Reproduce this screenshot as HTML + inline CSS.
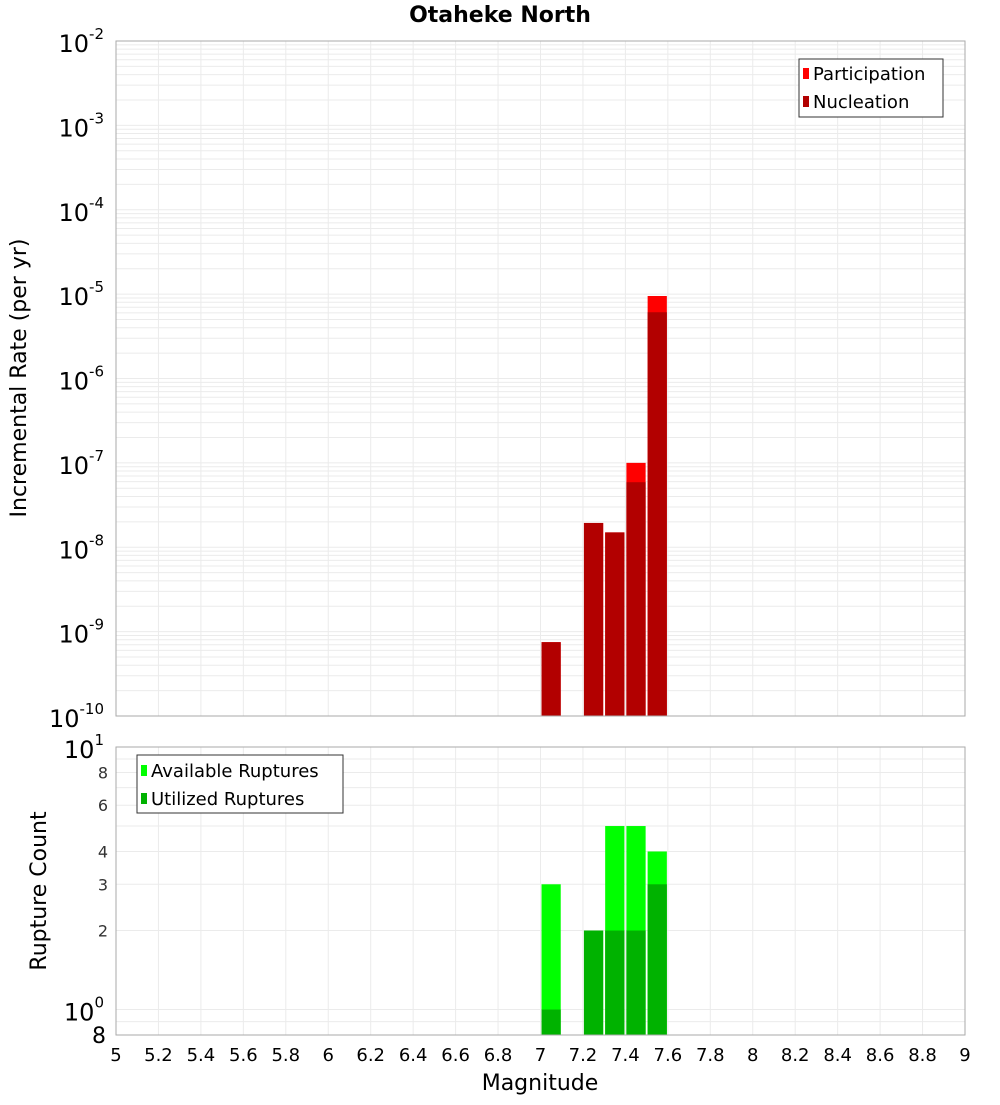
<!DOCTYPE html>
<html><head><meta charset="utf-8"><style>
body{margin:0;background:#fff;}
svg text{font-family:"DejaVu Sans","Liberation Sans",sans-serif;}
</style></head><body>
<svg id="chart" width="1000" height="1100" xmlns="http://www.w3.org/2000/svg">
<text x="500" y="22" text-anchor="middle" font-size="22" font-weight="bold">Otaheke North</text>
<g id="topPlot"></g>
<g id="botPlot"></g>
<text transform="translate(26,378) rotate(-90)" text-anchor="middle" font-size="22">Incremental Rate (per yr)</text>
<text transform="translate(46,891) rotate(-90)" text-anchor="middle" font-size="22">Rupture Count</text>
<text x="540" y="1090" text-anchor="middle" font-size="22">Magnitude</text>
</svg>
<script>
const mags=[7.05,7.25,7.35,7.45,7.55];
const participation=[7.5e-10,1.94e-8,1.5e-8,1.0e-7,9.5e-6];
const nucleation=[7.5e-10,1.94e-8,1.5e-8,5.9e-8,6.1e-6];
const available=[3,2,5,5,4];
const utilized=[1,2,2,2,3];
const xTicks=[5,5.2,5.4,5.6,5.8,6,6.2,6.4,6.6,6.8,7,7.2,7.4,7.6,7.8,8,8.2,8.4,8.6,8.8,9];
const countTicks=[2,3,4,6,8];

const NS="http://www.w3.org/2000/svg";
const X0=116,X1=965;
const xs=m=>X0+(m-5)/4*(X1-X0);
const T0=41,T1=716;
const yTop=v=>T1-(Math.log10(v)+10)/8*(T1-T0);
const B0=747,B1=1035;
const lmin=Math.log10(0.8),lmax=1;
const yBot=v=>B1-(Math.log10(v)-lmin)/(lmax-lmin)*(B1-B0);
function el(p,tag,a,txt){const e=document.createElementNS(NS,tag);for(const k in a)e.setAttribute(k,a[k]);if(txt!==undefined)e.textContent=txt;p.appendChild(e);return e;}
const topG=document.getElementById('topPlot'),botG=document.getElementById('botPlot');
function frame(g,y0,y1){
  for(const t of xTicks){const l=el(g,'line',{x1:xs(t),x2:xs(t),y1:y0,y2:y1,stroke:'#ebebeb'});
    
    }
}
frame(topG,T0,T1);
for(let d=-10;d<-2;d++){for(let k=1;k<10;k++){const v=k*Math.pow(10,d);const l=el(topG,'line',{x1:X0,x2:X1,y1:yTop(v),y2:yTop(v),stroke:'#ebebeb'});
  
  }}
for(let d=-10;d<=-2;d++){const y=yTop(Math.pow(10,d));
  const t=el(topG,'text',{x:104,y:y+11,'text-anchor':'end','font-size':24});
  
  
  t.innerHTML='10<tspan dy="-13" font-size="15">'+d+'</tspan>';}
for(let i=0;i<mags.length;i++){const x0=xs(mags[i]-0.05)+1,w=xs(mags[i]+0.05)-xs(mags[i]-0.05)-2;
  const p=el(topG,'rect',{x:x0,y:yTop(participation[i]),width:w,height:T1-yTop(participation[i]),fill:'#ff0000'});
  
  
  const n=el(topG,'rect',{x:x0,y:yTop(nucleation[i]),width:w,height:T1-yTop(nucleation[i]),fill:'#b20000'});
  
  }
el(topG,'rect',{x:X0,y:T0,width:X1-X0,height:T1-T0,fill:'none',stroke:'#aaa'});
const lg=el(topG,'g',{});


el(lg,'rect',{x:799,y:59,width:144,height:58,fill:'#fff',stroke:'#333'});
el(lg,'rect',{x:803,y:68,width:6,height:11,fill:'#ff0000'});
el(lg,'text',{x:813,y:80,'font-size':18},'Participation');
el(lg,'rect',{x:803,y:96,width:6,height:11,fill:'#b20000'});
el(lg,'text',{x:813,y:108,'font-size':18},'Nucleation');
frame(botG,B0,B1);
for(const v of [0.8,0.9,1,2,3,4,5,6,7,8,9,10]){const l=el(botG,'line',{x1:X0,x2:X1,y1:yBot(v),y2:yBot(v),stroke:'#ebebeb'});
  
  }
for(const v of countTicks){const t=el(botG,'text',{x:108,y:yBot(v)+6,'text-anchor':'end','font-size':16,fill:'#333'},String(v));
  
  }
for(const [v,e] of [[1,0],[10,1]]){const t=el(botG,'text',{x:104,y:yBot(v)+11,'text-anchor':'end','font-size':24});
  
  
  t.innerHTML='10<tspan dy="-13" font-size="15">'+e+'</tspan>';}
{const t=el(botG,'text',{x:106,y:1043,'text-anchor':'end','font-size':22},'8');
  
  }
for(let i=0;i<mags.length;i++){const x0=xs(mags[i]-0.05)+1,w=xs(mags[i]+0.05)-xs(mags[i]-0.05)-2;
  const a=el(botG,'rect',{x:x0,y:yBot(available[i]),width:w,height:B1-yBot(available[i]),fill:'#00ff00'});
  
  
  const u=el(botG,'rect',{x:x0,y:yBot(utilized[i]),width:w,height:B1-yBot(utilized[i]),fill:'#00b200'});
  
  }
el(botG,'rect',{x:X0,y:B0,width:X1-X0,height:B1-B0,fill:'none',stroke:'#aaa'});
const lg2=el(botG,'g',{});


el(lg2,'rect',{x:137,y:755,width:206,height:58,fill:'#fff',stroke:'#333'});
el(lg2,'rect',{x:141,y:765,width:6,height:11,fill:'#00ff00'});
el(lg2,'text',{x:151,y:777,'font-size':18},'Available Ruptures');
el(lg2,'rect',{x:141,y:793,width:6,height:11,fill:'#00b200'});
el(lg2,'text',{x:151,y:805,'font-size':18},'Utilized Ruptures');
for(const t of xTicks){const s=el(botG,'text',{x:xs(t),y:1061,'text-anchor':'middle','font-size':18},String(t));
  
  }
</script>
</body></html>
